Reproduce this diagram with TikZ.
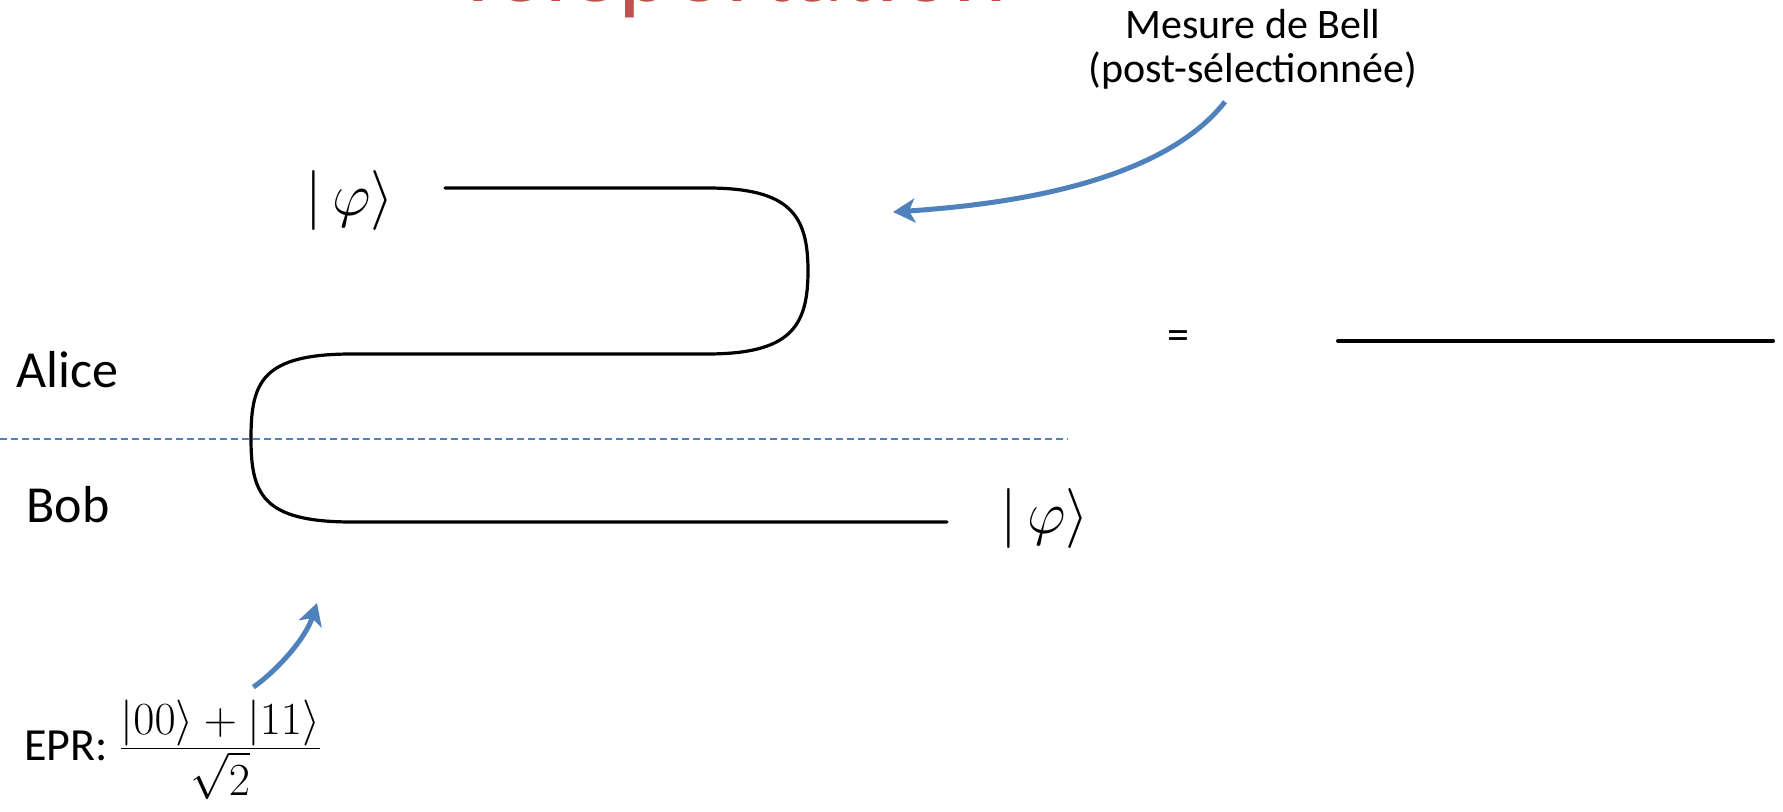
\RequirePackage{fix-cm}
\documentclass[tikz,border=0pt]{standalone}
\usepackage{amsmath}
\usepackage[no-math]{fontspec}
\setmainfont{Carlito}
\usetikzlibrary{arrows.meta}
\definecolor{tred}{HTML}{C0504D}
\definecolor{tblue}{HTML}{4F81BD}
\begin{document}
\begin{tikzpicture}[x=0.5pt,y=-0.5pt,
  wire/.style={line width=1.6pt,line cap=round},
  pointer/.style={tblue,line width=2.5pt,-{Stealth[length=11pt,width=12pt,inset=3pt]}},
  lbl/.style={inner sep=0pt}]
  \useasboundingbox (0,0) rectangle (1783,812);
  \clip (0,0) rectangle (1783,812);

  % Title, cut off by the top edge
  \node[lbl,tred,anchor=base,font=\fontsize{51}{55}\selectfont] (title) at (730,2) {Teleportation};

  % Parties and the line between them
  \node[lbl,anchor=base,font=\fontsize{26}{30}\selectfont] (alice) at (67,388) {Alice};
  \node[lbl,anchor=base,font=\fontsize{26}{30}\selectfont] (bob) at (68,523) {Bob};
  \coordinate (divL) at (0,439);
  \coordinate (divR) at (1068,439);
  \draw[tblue,line width=1.3pt,dash pattern=on 3.5pt off 2pt] (divL) -- (divR);

  % Input and output states
  \node[lbl,font=\fontsize{30}{34}\selectfont] (phiin) at (350,201) {$|\,\varphi\rangle$};
  \node[lbl,font=\fontsize{30}{34}\selectfont] (phiout) at (1045,518) {$|\,\varphi\rangle$};

  % The bent wire
  \coordinate (win) at (445,188);
  \coordinate (wtr) at (707,188);
  \coordinate (wr) at (808,271);
  \coordinate (wmr) at (707,354);
  \coordinate (wml) at (352,354);
  \coordinate (wl) at (251,438);
  \coordinate (wbl) at (352,522);
  \coordinate (wout) at (947,522);
  \draw[wire] (win) -- (wtr)
    .. controls (790,188) and (808,215) .. (wr)
    .. controls (808,327) and (790,354) .. (wmr) -- (wml)
    .. controls (262,354) and (251,382) .. (wl)
    .. controls (251,494) and (262,522) .. (wbl) -- (wout);

  % Right-hand side: a straight wire
  \node[lbl,font=\fontsize{22}{26}\selectfont] (eq) at (1178,340) {=};
  \coordinate (lineA) at (1338,341);
  \coordinate (lineB) at (1773,341);
  \draw[wire,line width=2pt] (lineA) -- (lineB);

  % Bell measurement
  \node[lbl,anchor=north,align=center,font=\fontsize{21}{22}\selectfont] (bell) at (1253,9)
    {Mesure de Bell\\(post-sélectionnée)};
  \coordinate (bellend) at (893,212);
  \draw[pointer] ([xshift=-14pt,yshift=-6pt]bell.south)
    .. controls (1160,185) and (1000,205) .. (bellend);

  % EPR pair
  \node[lbl,anchor=base west,font=\fontsize{23}{27}\selectfont] (epr) at (24,760)
    {EPR: $\frac{\displaystyle|00\rangle+|11\rangle}{\displaystyle\sqrt{2}}$};
  \coordinate (eprend) at (317,603);
  \draw[pointer] ([xshift=40pt,yshift=6pt]epr.north) .. controls (275,672) and (305,640) .. (eprend);
\end{tikzpicture}
\end{document}
